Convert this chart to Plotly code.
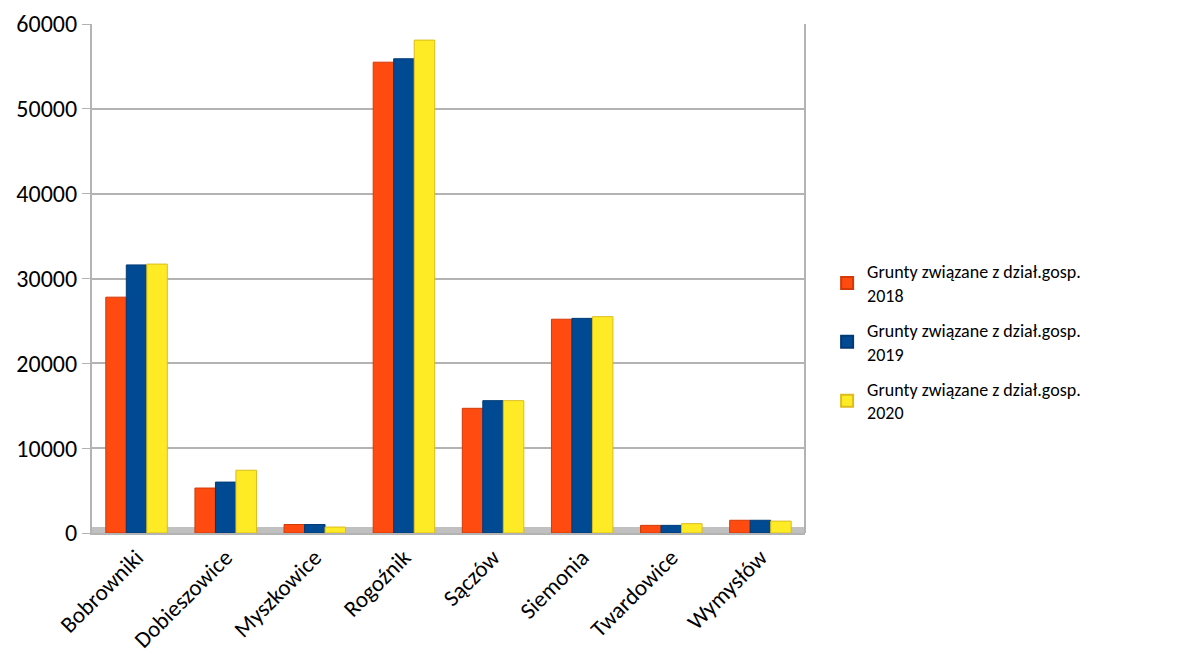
import plotly.graph_objects as go

categories = ["Bobrowniki", "Dobieszowice", "Myszkowice", "Rogoźnik", "Sączów",
              "Siemonia", "Twardowice", "Wymysłów"]
series_names = ["Grunty związane z dział.gosp.<br>2018",
                "Grunty związane z dział.gosp.<br>2019",
                "Grunty związane z dział.gosp.<br>2020"]
v2018 = [27800, 5300, 1000, 55500, 14700, 25200, 900, 1500]
v2019 = [31600, 6000, 1000, 55900, 15600, 25300, 900, 1500]
v2020 = [31700, 7400, 700, 58100, 15600, 25500, 1100, 1400]
colors = ["#ff4a10", "#004a94", "#ffeb25"]
edge = ["#d23a08", "#003a75", "#dcbc1c"]

fig = go.Figure()
for i, (name, vals, c, e) in enumerate(zip(series_names, [v2018, v2019, v2020], colors, edge)):
    fig.add_trace(go.Bar(x=categories, y=vals, name=name, legendgroup=f"g{i}",
                         marker=dict(color=c, line=dict(color=e, width=1))))

font = "Carlito, Lato, 'Open Sans', sans-serif"
fig.update_layout(
    width=1177, height=659,
    margin=dict(l=84, r=380, t=16, b=134),
    paper_bgcolor="white", plot_bgcolor="white",
    barmode="group", bargap=0.31, bargroupgap=0,
    font=dict(family=font, size=21, color="#000000"),
    showlegend=True,
    legend=dict(x=1.031, y=0.375, xanchor="left", yanchor="middle",
                font=dict(size=18), tracegroupgap=9, itemsizing="constant"),
    xaxis=dict(tickangle=-45, showgrid=False, showline=True, linecolor="#b3b3b3",
               linewidth=2, ticks="", tickfont=dict(size=23), automargin=False),
    yaxis=dict(range=[0, 60000], dtick=10000, tickformat="d", showgrid=True,
               gridcolor="#b3b3b3", gridwidth=1.5, showline=True,
               linecolor="#b3b3b3", linewidth=2,
               ticks="outside", ticklen=8, tickcolor="#b3b3b3",
               tickfont=dict(size=24), zeroline=False, automargin=False),
    shapes=[
        dict(type="line", xref="paper", yref="paper", x0=1, x1=1, y0=0, y1=1,
             line=dict(color="#b3b3b3", width=2)),
        dict(type="rect", xref="paper", yref="paper", x0=0, x1=1, y0=0, y1=0.012,
             fillcolor="#c0c0c0", line=dict(width=0), layer="below"),
    ],
)
fig.write_html("out.html")
